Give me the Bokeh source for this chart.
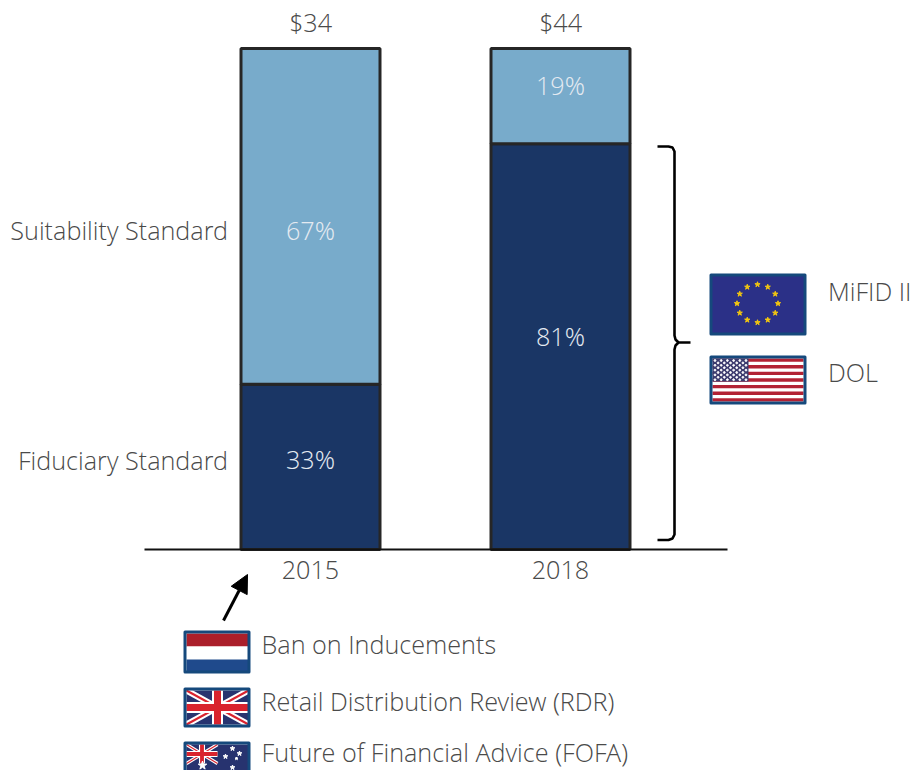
from bokeh.plotting import figure
from bokeh.models import Range1d, LinearAxis, FixedTicker, Arrow, NormalHead
from bokeh.core.properties import value
from bokeh.embed import file_html
from bokeh.resources import INLINE
import math

years = ["2015", "2018"]
totals = ["$34", "$44"]
fiduciary = [33, 81]
suitability = [67, 19]
fid_labels = ["33%", "81%"]
suit_labels = ["67%", "19%"]
fid_label_y = [18.0, 42.7]
suit_label_y = [63.7, 92.8]
row_labels = ["Suitability Standard", "Fiduciary Standard"]
row_label_y = [63.7, 17.8]

FONT = "Open Sans Light"
TXT = "#4a4a4a"
LIGHT, DARK, EDGE = "#78abcb", "#1a3665", "#262626"
BORDER = "#15497c"
FS = 25.2

X_LO, X_HI = (0 - 310) / 250, (912 - 310) / 250
Y_LO, Y_HI = -(770 - 549) / 5.01, (549 - 0) / 5.01
p = figure(width=912, height=770, output_backend="svg", toolbar_location=None,
           x_range=Range1d(X_LO, X_HI), y_range=Range1d(Y_LO, Y_HI),
           x_axis_type=None, y_axis_type=None, min_border=0)
p.outline_line_color = None
p.grid.visible = False
p.background_fill_color = "white"
p.border_fill_color = "white"
# screen-pixel ranges for the decorative drawings (flags, bracket, arrow)
p.extra_x_ranges["px"] = Range1d(0, 912)
p.extra_y_ranges["px"] = Range1d(770, 0)
S = dict(x_range_name="px", y_range_name="px")

xs = list(range(len(years)))
tops = [a + b for a, b in zip(fiduciary, suitability)]
p.vbar(x=xs, bottom=0, top=fiduciary, width=0.556, fill_color=DARK, line_color=EDGE, line_width=3)
p.vbar(x=xs, bottom=fiduciary, top=tops, width=0.556, fill_color=LIGHT, line_color=EDGE, line_width=3)

def label(x, y, t, size=FS, color=TXT, **kw):
    kw.setdefault("text_align", "center")
    p.text(x=x, y=y, text=t, text_font=value(FONT), text_font_size=f"{size}px",
           text_color=color, text_baseline="middle", **kw)

label(xs, fid_label_y, fid_labels, color="#e4eaf1")
label(xs, suit_label_y, suit_labels, color="#e4eaf1")
label(xs, [105.2, 105.2], totals)

xaxis = LinearAxis(fixed_location=0, ticker=FixedTicker(ticks=xs),
                   major_label_overrides={i: y for i, y in zip(xs, years)},
                   bounds=((144 - 310) / 250, (727 - 310) / 250),
                   axis_line_color="#111111", axis_line_width=2,
                   major_tick_line_color=None, minor_tick_line_color=None,
                   major_label_text_font=FONT, major_label_text_font_size=f"{FS}px",
                   major_label_text_color=TXT, major_label_standoff=5)
p.add_layout(xaxis, "below")
yaxis = LinearAxis(fixed_location=(236.5 - 310) / 250, ticker=FixedTicker(ticks=row_label_y),
                   major_label_overrides={v: t for v, t in zip(row_label_y, row_labels)},
                   axis_line_color=None, major_tick_line_color=None, minor_tick_line_color=None,
                   major_label_text_font=FONT, major_label_text_font_size=f"{FS}px",
                   major_label_text_color=TXT, major_label_standoff=3)
p.add_layout(yaxis, "left")

# bracket
bx = [657, 668, 672, 674, 674, 675, 678, 690, 678, 675, 674, 674, 672, 668, 657]
by = [146, 146, 147, 151, 335, 339, 342, 342, 342, 345, 349, 534, 538, 539.5, 539.5]
p.line(bx, by, line_color="black", line_width=2.6, **S)

# arrow
p.add_layout(Arrow(x_start=223, y_start=620, x_end=247, y_end=574, line_color="black", line_width=3,
                   end=NormalHead(size=18, fill_color="black", line_color="black"), **S))

def frame(x0, y0, x1, y1):
    p.quad(left=x0 + 1.5, right=x1 - 1.5, top=y0 + 1.5, bottom=y1 - 1.5, fill_color=None,
           line_color=BORDER, line_width=3, line_join="round", **S)

def rect(x0, y0, x1, y1, c):
    p.quad(left=x0, right=x1, top=y0, bottom=y1, fill_color=c, line_color=None, **S)

def jack(x0, y0, x1, y1, k=1.0):
    rect(x0, y0, x1, y1, "#27336f")
    xc, yc = (x0 + x1) / 2, (y0 + y1) / 2
    p.multi_line([[x0, x1], [x0, x1]], [[y0, y1], [y1, y0]], line_color="white", line_width=6 * k, **S)
    p.multi_line([[x0, x1], [x0, x1]], [[y0, y1], [y1, y0]], line_color="#d9232e", line_width=2 * k, **S)
    rect(xc - 5.5 * k, y0, xc + 5.5 * k, y1, "white")
    rect(x0, yc - 5.5 * k, x1, yc + 5.5 * k, "white")
    rect(xc - 3.5 * k, y0, xc + 3.5 * k, y1, "#d9232e")
    rect(x0, yc - 3.5 * k, x1, yc + 3.5 * k, "#d9232e")

# Netherlands
rect(186, 633, 248, 646, "#ab1f2a")
rect(186, 646, 248, 659, "white")
rect(186, 659, 248, 671, "#1f4a8c")
frame(183, 630, 250, 673)
# UK
jack(186, 690, 248, 724)
frame(183, 687, 250, 727)
# Australia
rect(186, 744, 248, 775, "#27336f")
jack(186, 744, 217, 763, 0.55)
p.scatter([202, 232, 239, 225, 236, 232], [765, 748, 753, 756, 758, 767],
          size=[9, 5, 5, 5, 3, 5], marker="star", color="white", **S)
frame(183, 741, 250, 778)
# EU
rect(711, 275, 804, 333, "#2b3087")
a = [math.radians(i * 30) for i in range(12)]
p.scatter([757 + 20.5 * math.cos(t) for t in a], [303 + 19 * math.sin(t) for t in a],
          marker="star", size=5.5, color="#f6c90e", **S)
frame(709, 273, 806, 335)
# USA
rect(712, 358, 803, 401, "white")
for i in range(0, 13, 2):
    rect(712, 358 + i * 43 / 13, 803, 358 + (i + 1) * 43 / 13, "#b22234")
rect(712, 358, 748, 381, "#3c3b6e")
sx, sy = [], []
for r in range(9):
    for c in range(6 if r % 2 == 0 else 5):
        sx.append(714.5 + c * 6.2 + (0 if r % 2 == 0 else 3.1))
        sy.append(360 + r * 2.4)
p.scatter(sx, sy, marker="circle", size=1.8, color="white", **S)
frame(709, 355, 806, 404)

for tx, ty, t in [(827.5, 290.5, "MiFID II"), (827.5, 371.5, "DOL"), (261, 643.5, "Ban on Inducements"),
                  (261, 700.5, "Retail Distribution Review (RDR)"),
                  (261, 751.5, "Future of Financial Advice (FOFA)")]:
    label([tx], [ty], [t], text_align="left", **S)

open("out.html", "w").write(file_html(p, INLINE))
